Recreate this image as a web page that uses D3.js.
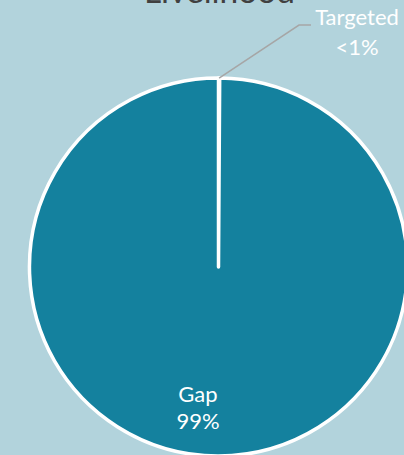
<!DOCTYPE html>
<html>
<head>
<meta charset="utf-8">
<script src="https://cdn.jsdelivr.net/npm/d3@7"></script>
<style>
  html, body { margin: 0; padding: 0; background: #b2d3dc; }
  text { font-family: Lato, "Open Sans", sans-serif; }
</style>
</head>
<body>
<div id="chart"></div>
<script>
const categories = ['Gap', 'Targeted']
const values = [99.9, 0.1]
const pctLabels = ['99%', '<1%']
const title = 'Livelihood'

const width = 404
const height = 455
const cx = 218.5
const cy = 267
const radius = 189

const svg = d3.select('#chart')
  .append('svg')
  .attr('width', width)
  .attr('height', height)

svg.append('rect')
  .attr('width', width)
  .attr('height', height)
  .attr('fill', '#b2d3dc')

// title sits mostly above the visible area, as in the source
svg.append('text')
  .attr('x', cx + 1)
  .attr('y', 3)
  .attr('text-anchor', 'middle')
  .attr('fill', '#404040')
  .style('font-size', '33.5px')
  .text(title)

const slices = categories.map((c, i) => ({ name: c, value: values[i], label: pctLabels[i] }))

// targeted slice first so it starts at 12 o'clock
const pie = d3.pie().value(d => d.value).sort(null)
const arcs = pie(slices.slice().reverse())

const arc = d3.arc().innerRadius(0).outerRadius(radius)

const g = svg.append('g').attr('transform', `translate(${cx},${cy})`)

g.selectAll('path')
  .data(arcs)
  .join('path')
  .attr('d', arc)
  .attr('fill', '#14819e')
  .attr('stroke', '#ffffff')
  .attr('stroke-width', 3.5)
  .attr('stroke-linejoin', 'round')

// Gap label inside the pie
const gapArc = arcs.find(a => a.data.name === 'Gap')
svg.append('text')
  .attr('y', 402)
  .attr('text-anchor', 'middle')
  .attr('fill', '#ffffff')
  .style('font-size', '22px')
  .selectAll('tspan')
  .data([gapArc.data.name, gapArc.data.label])
  .join('tspan')
  .attr('x', 198)
  .attr('dy', (d, i) => i ? 27 : 0)
  .text(d => d)

// Targeted label with a leader line
const tArc = arcs.find(a => a.data.name === 'Targeted')
const mid = (tArc.startAngle + tArc.endAngle) / 2
const p0 = [cx + Math.sin(mid) * radius, cy - Math.cos(mid) * radius]
svg.append('polyline')
  .attr('points', [p0, [299, 25], [311, 25]].map(p => p.join(',')).join(' '))
  .attr('fill', 'none')
  .attr('stroke', '#a6a6a6')
  .attr('stroke-width', 1.5)

svg.append('text')
  .attr('y', 25)
  .attr('text-anchor', 'middle')
  .attr('fill', '#ffffff')
  .style('font-size', '22px')
  .selectAll('tspan')
  .data([tArc.data.name, tArc.data.label])
  .join('tspan')
  .attr('x', 357)
  .attr('dy', (d, i) => i ? 30 : 0)
  .text(d => d)
</script>
</body>
</html>
